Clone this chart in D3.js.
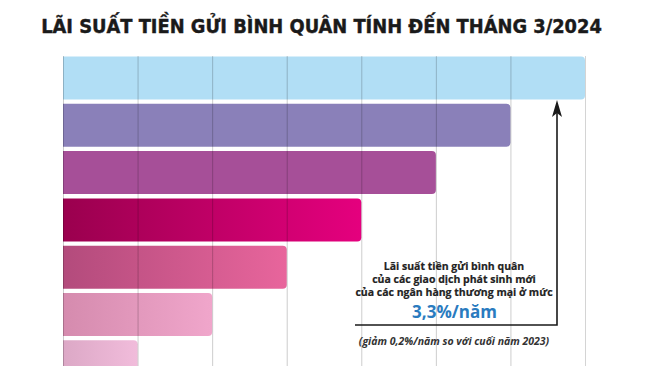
<!DOCTYPE html>
<html>
<head>
<meta charset="utf-8">
<script src="https://cdn.jsdelivr.net/npm/d3@7"></script>
<style>
  body { margin: 0; background: #fff; }
  svg { display: block; }
</style>
</head>
<body>
<svg id="chart" width="650" height="366"></svg>
<script>
"use strict";

// data (bars have no labels, lengths step by one grid unit)
const bars = ["b1", "b2", "b3", "b4", "b5", "b6", "b7"];
const values = [7, 6, 5, 4, 3, 2, 1];
const gridTicks = [0, 1, 2, 3, 4, 5, 6, 7];
const colorsFrom = ["#b1def5", "#8a80b9", "#a64f98", "#9a004e", "#b34b7c", "#d58bae", "#dca8c6"];
const colorsTo   = ["#b1def5", "#8a80b9", "#a64f98", "#e5007e", "#e8659c", "#f0a6cb", "#f1bcdb"];

const title = "LÃI SUẤT TIỀN GỬI BÌNH QUÂN TÍNH ĐẾN THÁNG 3/2024";
const noteLines = [
  "Lãi suất tiền gửi bình quân",
  "của các giao dịch phát sinh mới",
  "của các ngân hàng thương mại ở mức"
];
const noteValue = "3,3%/năm";
const noteSub = "(giảm 0,2%/năm so với cuối năm 2023)";

const svg = d3.select("#chart");

const x = d3.scaleLinear().domain([0, 7]).range([63, 585]);
const y = d3.scaleBand().domain(bars).range([56.5, 383.3]).paddingInner(0.09).paddingOuter(0);

// gradients
const defs = svg.append("defs");
bars.forEach((b, i) => {
  const lg = defs.append("linearGradient").attr("id", "grad" + i)
    .attr("x1", "0%").attr("x2", "100%").attr("y1", "0%").attr("y2", "0%");
  lg.append("stop").attr("offset", "0%").attr("stop-color", colorsFrom[i]);
  lg.append("stop").attr("offset", "100%").attr("stop-color", colorsTo[i]);
});

// title, condensed face sized to span the same width as the reference
const titleText = svg.append("text")
  .attr("x", 321.5)
  .attr("y", 33)
  .attr("text-anchor", "middle")
  .attr("font-family", "'Liberation Sans Narrow', 'Arial Narrow', 'DejaVu Sans Condensed', sans-serif")
  .attr("font-weight", 700)
  .attr("font-size", 22)
  .attr("fill", "#1a1a1a")
  .style("stroke", "#1a1a1a")
  .style("stroke-width", 0.4)
  .text(title);
const tw = titleText.node().getComputedTextLength();
if (tw > 0) titleText.attr("font-size", Math.min(24, 22 * 561 / tw));

// bars: square on the left, rounded on the right
function barPath(x0, y0, w, h, r) {
  return `M${x0},${y0}H${x0 + w - r}Q${x0 + w},${y0} ${x0 + w},${y0 + r}` +
    `V${y0 + h - r}Q${x0 + w},${y0 + h} ${x0 + w - r},${y0 + h}H${x0}Z`;
}

svg.append("g").selectAll("path")
  .data(bars)
  .enter()
  .append("path")
  .attr("d", (d, i) => barPath(x(0), y(d), x(values[i]) - x(0), y.bandwidth(), 4))
  .attr("fill", (d, i) => `url(#grad${i})`);

// grid lines over the bars
svg.append("g").selectAll("line")
  .data(gridTicks)
  .enter()
  .append("line")
  .attr("x1", d => x(d) + 0.5)
  .attr("x2", d => x(d) + 0.5)
  .attr("y1", 56)
  .attr("y2", 366)
  .style("stroke", d => d === 7 ? "#d4d4d4" : "rgba(0,0,0,0.2)")
  .style("stroke-width", 1);

// annotation
const note = svg.append("g")
  .attr("font-family", "'Open Sans', 'Noto Sans', sans-serif")
  .attr("text-anchor", "middle");

note.selectAll("text.line")
  .data(noteLines)
  .enter()
  .append("text")
  .attr("class", "line")
  .attr("x", 454)
  .attr("y", (d, i) => 270 + i * 13)
  .attr("font-size", 10.5)
  .attr("font-weight", 700)
  .attr("fill", "#222")
  .style("stroke", "#222")
  .style("stroke-width", 0.2)
  .text(d => d);

note.append("text")
  .attr("x", 454.5)
  .attr("y", 318)
  .attr("font-size", 17)
  .attr("font-weight", 700)
  .attr("fill", "#2a7bbf")
  .text(noteValue);

note.append("text")
  .attr("x", 454)
  .attr("y", 345)
  .attr("font-size", 10.5)
  .attr("font-weight", 700)
  .attr("font-style", "italic")
  .attr("fill", "#333")
  .text(noteSub);

// arrow from the note up to the top bar
const ax = 557, ay = 325;
svg.append("path")
  .attr("d", `M355,${ay}H${ax}V112`)
  .attr("fill", "none")
  .style("stroke", "#1a1a1a")
  .style("stroke-width", 1.6);

const tipY = y(bars[0]) + y.bandwidth() + 0.5;
svg.append("path")
  .attr("d", `M${ax},${tipY}L${ax + 5},${tipY + 17}L${ax},${tipY + 13}L${ax - 5},${tipY + 17}Z`)
  .attr("fill", "#1a1a1a");
</script>
</body>
</html>
